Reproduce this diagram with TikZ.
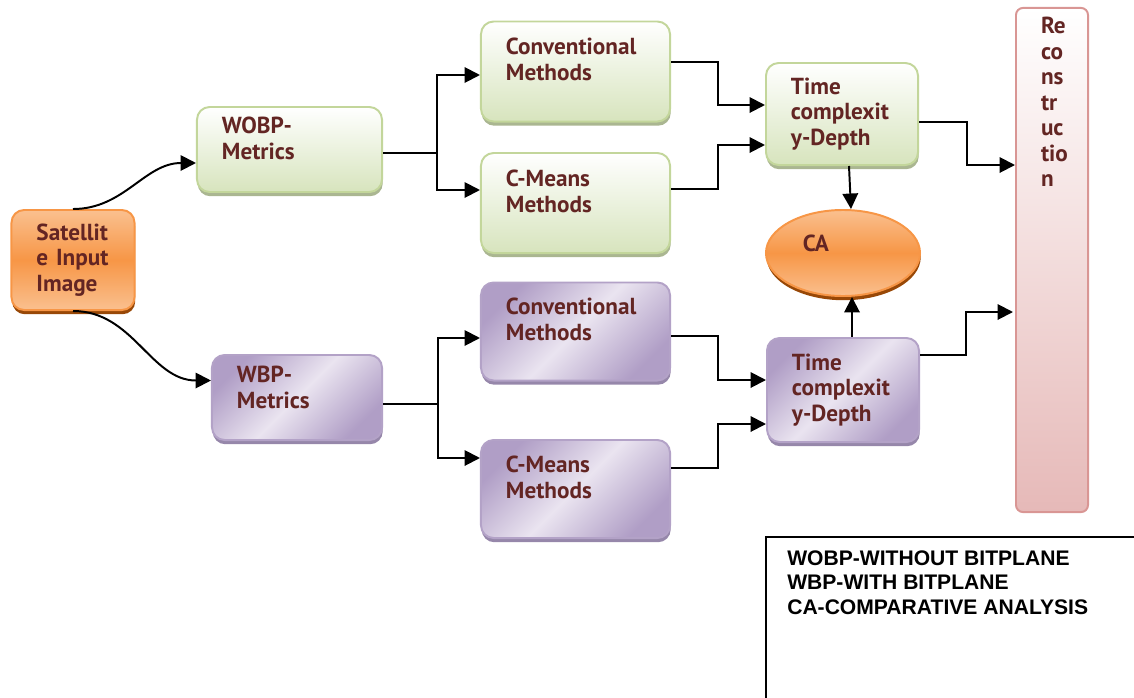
\documentclass[tikz,border=0pt]{standalone}
\usepackage{fontspec}
\setmainfont{PT Sans}
\newfontfamily\legfont{Liberation Sans}
\usetikzlibrary{arrows.meta,calc,shadows,shapes.geometric}
\definecolor{txtc}{RGB}{99,37,35}
\definecolor{gBrd}{RGB}{195,214,155}
\definecolor{gFill}{RGB}{215,228,189}
\definecolor{gShd}{RGB}{170,182,145}
\definecolor{pBrd}{RGB}{179,162,199}
\definecolor{pDark}{RGB}{176,158,198}
\definecolor{pLight}{RGB}{234,228,240}
\definecolor{pShd}{RGB}{150,135,170}
\definecolor{oMid}{RGB}{247,150,70}
\definecolor{oLight}{RGB}{250,192,143}
\definecolor{oShd}{RGB}{152,72,7}
\definecolor{rBrd}{RGB}{217,150,148}
\definecolor{rFill}{RGB}{230,185,184}
\hyphenpenalty=10000
\exhyphenpenalty=10000
\begin{document}
\begin{tikzpicture}[x=0.025cm,y=-0.025cm,
	box/.style={rounded corners=9pt,line width=1.4pt,align=left,inner ysep=0pt,inner xsep=0.625cm,text=txtc,font=\bfseries\fontsize{16.5}{18.2}\selectfont},
	pad/.style={execute at end node={\rule[-#1]{0pt}{0pt}}},
	gbox/.style={box,draw=gBrd,top color=white,bottom color=gFill,drop shadow={shadow xshift=0.5pt,shadow yshift=-3pt,fill=gShd,opacity=1}},
	pbox/.style={box,draw=pBrd,left color=pDark,right color=pDark,middle color=pLight,shading angle=45,drop shadow={shadow xshift=0.5pt,shadow yshift=-3pt,fill=pShd,opacity=1}},
	obox/.style={box,draw=oMid,top color=oLight,bottom color=oLight,middle color=oMid,drop shadow={shadow xshift=0.5pt,shadow yshift=-3pt,fill=oShd,opacity=1}},
	mbox/.style={minimum width=4.725cm,minimum height=2.5cm,text width=3.475cm,pad=0.6cm},
	tbox/.style={minimum width=3.8cm,minimum height=2.55cm,text width=2.55cm},
	arr/.style={-{Triangle[length=11pt,width=11pt]},line width=1.4pt}]

	\useasboundingbox (0,0) rectangle (1134,698);

	\node[obox,minimum width=3.075cm,minimum height=2.5cm,text width=1.825cm] (sat) at (73,260) {Satellit\\e~Input\\Image};
	\node[gbox,minimum width=4.625cm,minimum height=2.125cm,text width=3.375cm,pad=0.55cm] (wobp) at (289.5,149.5) {WOBP-\\Metrics};
	\node[pbox,minimum width=4.25cm,minimum height=2.125cm,text width=3cm,pad=0.5cm] (wbp) at (297,397.5) {WBP-\\Metrics};

	\node[gbox,mbox] (convA) at (575.5,71.5) {Conventional\\Methods};
	\node[gbox,mbox] (cmA) at (575.5,203) {C-Means\\Methods};
	\node[pbox,mbox,minimum height=2.45cm] (convB) at (575.5,331.5) {Conventional\\Methods};
	\node[pbox,mbox,minimum height=2.45cm] (cmB) at (575.5,489) {C-Means\\Methods};

	\node[gbox,tbox] (timeA) at (842,114) {Time\\complexit\\y-Depth};
	\node[pbox,tbox,minimum height=2.6cm] (timeB) at (843,390) {Time\\complexit\\y-Depth};
	\node[obox,ellipse,minimum width=3.85cm,minimum height=2.15cm,text width=2cm,inner xsep=0pt,text depth=0.5cm] (ca) at (843,253) {CA};

	\node[box,draw=rBrd,top color=white,bottom color=rFill,rounded corners=5pt,minimum width=1.8cm,minimum height=12.6cm,text width=0.55cm,pad=7.9cm] (rec) at (1052,260) {Re\\co\\ns\\tr\\uc\\tio\\n};

	\draw[line width=1.2pt] (766,698) -- (766,537) -- (1134,537);
	\node[anchor=north west,align=left,inner sep=0pt,font=\legfont\bfseries\fontsize{15}{17.6}\selectfont] (leg) at (787,550) {WOBP-WITHOUT BITPLANE\\WBP-WITH BITPLANE\\CA-COMPARATIVE ANALYSIS};

	\draw[arr] (sat.north) to[out=0,in=180] ($(wobp.west)+(0,13.5)$);
	\draw[arr] (sat.south) to[out=0,in=180] ($(wbp.west)+(0,-17)$);

	\draw[line width=1.4pt] ($(wobp.east)+(0,3.5)$) -- ++(54,0) coordinate (jA);
	\draw[arr] (jA) |- ($(convA.west)+(0,3.5)$);
	\draw[arr] (jA) |- ($(cmA.west)+(0,-13)$);
	\draw[line width=1.4pt] ($(wbp.east)+(0,6.5)$) -- ++(55,0) coordinate (jB);
	\draw[arr] (jB) |- ($(convB.west)+(0,6.5)$);
	\draw[arr] (jB) |- ($(cmB.west)+(0,-31)$);

	\draw[arr] ($(convA.east)+(0,-9.5)$) -- ++(47,0) |- ($(timeA.west)+(0,-9)$);
	\draw[arr] ($(cmA.east)+(0,-14)$) -- ++(47,0) |- ($(timeA.west)+(0,31)$);
	\draw[arr] ($(convB.east)+(0,4.5)$) -- ++(47,0) |- ($(timeB.west)+(0,-10)$);
	\draw[arr] ($(cmB.east)+(0,-21)$) -- ++(47,0) |- ($(timeB.west)+(0,34)$);

	\draw[arr] ($(timeA.east)+(0,8)$) -- ++(48,0) |- ($(rec.west)+(0,-95)$);
	\draw[arr] ($(timeB.east)+(0,-35)$) -- ++(46,0) |- ($(rec.west)+(-2,52)$);
	\draw[arr] ($(timeA.south)+(7,0)$) -- ($(ca.north)+(8,0)$);
	\draw[arr] ($(timeB.north)+(9,0)$) -- ($(ca.south)+(9,0)$);

\end{tikzpicture}
\end{document}
